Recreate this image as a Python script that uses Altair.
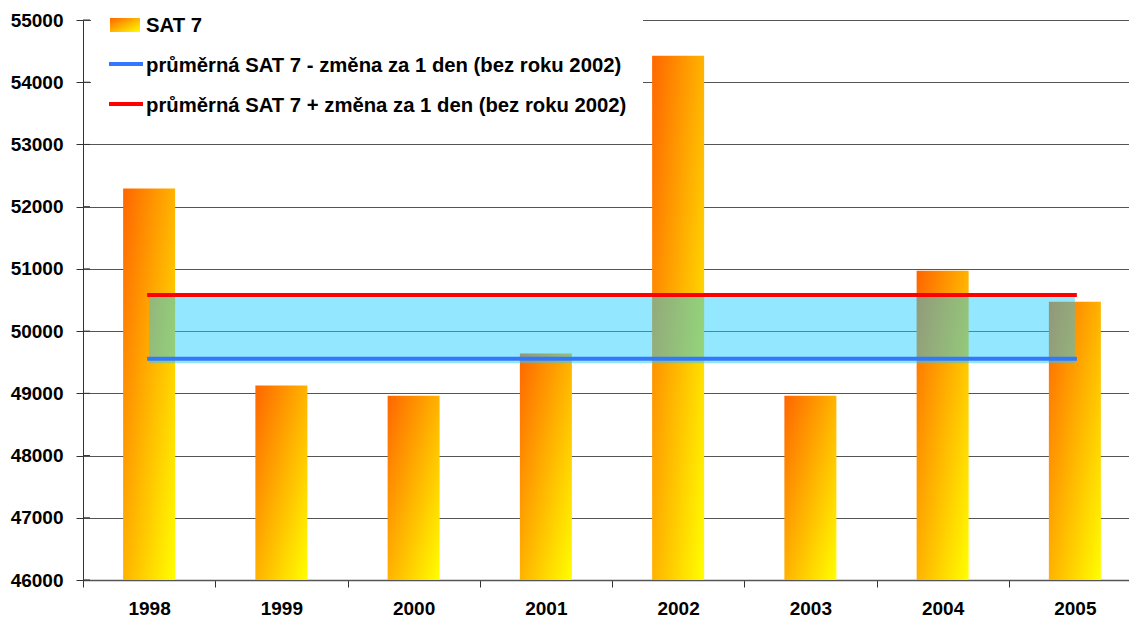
import altair as alt
import pandas as pd

# ---- data ----
years = ["1998", "1999", "2000", "2001", "2002", "2003", "2004", "2005"]
sat7 = [52290, 49125, 48960, 49640, 54425, 48960, 50970, 50470]
line_years = ["1998", "2005"]
mean_minus = 49555   # průměrná SAT 7 - změna za 1 den
mean_plus = 50580    # průměrná SAT 7 + změna za 1 den
band_lo = 49485
band_hi = 50545
y_ticks = [46000, 47000, 48000, 49000, 50000, 51000, 52000, 53000, 54000, 55000]
legend_labels = [
    "SAT 7",
    "průměrná SAT 7 - změna za 1 den (bez roku 2002)",
    "průměrná SAT 7 + změna za 1 den (bez roku 2002)",
]

FONT = "Liberation Sans"
BLUE = "#3377FF"
RED = "#FF0000"

grad = alt.Gradient(
    gradient="linear",
    stops=[alt.GradientStop(color="#FF6600", offset=0),
           alt.GradientStop(color="#FFFF00", offset=1)],
    x1=0, y1=0, x2=1, y2=1,
)

bars_df = pd.DataFrame({"year": years, "value": sat7})
band_df = pd.DataFrame({"year": line_years, "lo": [band_lo] * 2, "hi": [band_hi] * 2})
minus_df = pd.DataFrame({"year": line_years, "v": [mean_minus] * 2})
plus_df = pd.DataFrame({"year": line_years, "v": [mean_plus] * 2})
tick_df = pd.DataFrame({"t": y_ticks})
one = pd.DataFrame({"a": [0]})

# the category axis runs a little past the right edge of the window, as in the original
xscale = alt.Scale(domain=years, paddingInner=0, paddingOuter=0, range=[0, 1058])
yscale = alt.Scale(domain=[y_ticks[0], y_ticks[-1]], zero=False, nice=False)

x_main = alt.X(
    "year:O", scale=xscale, title=None,
    axis=alt.Axis(labelAngle=0, tickBand="extent", tickSize=7, labelPadding=12,
                  labelFont=FONT, labelFontSize=19, labelFontWeight="bold",
                  labelColor="black", domainColor="#555555", tickColor="#333333",
                  domainWidth=1.5, grid=False),
)
y_main = alt.Y(
    "value:Q", scale=yscale, title=None,
    axis=alt.Axis(values=y_ticks, format="d", tickSize=7, labelPadding=13,
                  labelFont=FONT, labelFontSize=19, labelFontWeight="bold",
                  labelColor="black", domainColor="#333333", tickColor="#333333",
                  grid=True, gridColor="#555555", gridWidth=1.2),
)

bars = alt.Chart(bars_df).mark_bar(width=52, color=grad).encode(
    x=x_main, y=y_main, y2=alt.datum(y_ticks[0])
)

# inner half of the crossing tick marks on the value axis
inner_ticks = alt.Chart(tick_df).mark_rule(color="#333333", strokeWidth=1).encode(
    y=alt.Y("t:Q", scale=yscale, title=None), x=alt.value(0), x2=alt.value(7)
)

band = alt.Chart(band_df).mark_area(color="#1ECCFF", opacity=0.48).encode(
    x=alt.X("year:O", scale=xscale, title=None),
    y=alt.Y("lo:Q", scale=yscale, title=None),
    y2="hi:Q",
)
line_plus = alt.Chart(plus_df).mark_line(color=RED, strokeWidth=4, strokeCap="square").encode(
    x=alt.X("year:O", scale=xscale, title=None),
    y=alt.Y("v:Q", scale=yscale, title=None),
)
line_minus = alt.Chart(minus_df).mark_line(color=BLUE, strokeWidth=4, strokeCap="square").encode(
    x=alt.X("year:O", scale=xscale, title=None),
    y=alt.Y("v:Q", scale=yscale, title=None),
)

# ---- legend (drawn in pixel space of the plot) ----
leg_box = alt.Chart(one).mark_rect(color="white").encode(
    x=alt.value(8), x2=alt.value(560), y=alt.value(-17), y2=alt.value(100)
)
leg_sym = alt.Chart(one).mark_rect(color=grad).encode(
    x=alt.value(27), x2=alt.value(57), y=alt.value(-2), y2=alt.value(12)
)
leg_blue = alt.Chart(one).mark_rule(color=BLUE, strokeWidth=4).encode(
    x=alt.value(26), x2=alt.value(60), y=alt.value(44)
)
leg_red = alt.Chart(one).mark_rule(color=RED, strokeWidth=4).encode(
    x=alt.value(26), x2=alt.value(60), y=alt.value(84)
)
text_style = dict(font=FONT, fontSize=20.3, fontWeight="bold", color="black",
                  align="left", baseline="alphabetic")
leg_t = [
    alt.Chart(one).mark_text(**text_style).encode(
        x=alt.value(63), y=alt.value(yy), text=alt.value(lbl))
    for lbl, yy in zip(legend_labels, [12, 52, 91.5])
]

chart = alt.layer(
    bars, inner_ticks, band, line_plus, line_minus,
    leg_box, leg_sym, leg_blue, leg_red, *leg_t
).properties(
    width=1046, height=560,
    autosize=alt.AutoSizeParams(type="none"),
    padding={"left": 75, "top": 12, "right": 0, "bottom": 38},
    background="white",
).configure_view(stroke=None)

chart.save("out.html", embed_options={"renderer": "svg", "actions": False})
